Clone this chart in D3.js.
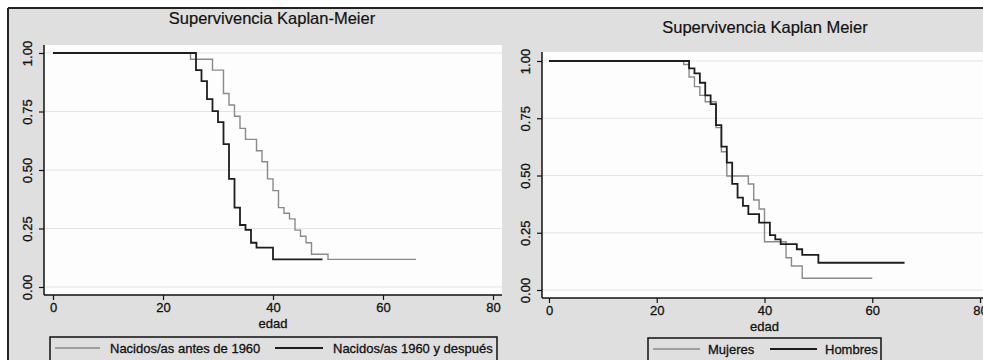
<!DOCTYPE html>
<html>
<head>
<meta charset="utf-8">
<script src="https://cdn.jsdelivr.net/npm/d3@7"></script>
<style>
  body { margin: 0; background: #fff; }
  svg { display: block; font-family: "Liberation Sans", Arial, sans-serif; }
  svg text { stroke: #111; stroke-width: 0.3px; }
</style>
</head>
<body>
<div id="chart"></div>
<script>
// shared axes
const xTicks = [0, 20, 40, 60, 80];
const yTicks = [0, 0.25, 0.5, 0.75, 1];

// left panel: birth cohort
const antesTime = [0, 25, 29, 31, 32, 33, 34, 35, 37, 38, 39, 40, 41, 42, 43, 44, 45, 46, 47, 50, 66];
const antesSurv = [1, 0.973, 0.927, 0.827, 0.778, 0.73, 0.678, 0.631, 0.582, 0.535, 0.462, 0.412, 0.339, 0.315, 0.291, 0.243, 0.217, 0.189, 0.14, 0.118, 0.118];
const despuesTime = [0, 26, 27, 28, 29, 30, 31, 32, 33, 34, 35, 36, 37, 40, 49];
const despuesSurv = [1, 0.927, 0.88, 0.803, 0.752, 0.705, 0.611, 0.462, 0.339, 0.265, 0.244, 0.189, 0.168, 0.118, 0.118];

// right panel: sex
const mujeresTime = [0, 25, 26, 27, 28, 29, 31, 32, 33, 37, 38, 39, 40, 44, 45, 47, 60];
const mujeresSurv = [1, 0.985, 0.93, 0.888, 0.85, 0.822, 0.709, 0.604, 0.498, 0.463, 0.393, 0.354, 0.211, 0.141, 0.105, 0.051, 0.051];
const hombresTime = [0, 26, 27, 28, 29, 30, 31, 32, 33, 34, 35, 36, 37, 39, 41, 42, 43, 46, 47, 50, 66];
const hombresSurv = [1, 0.968, 0.946, 0.905, 0.85, 0.812, 0.72, 0.626, 0.556, 0.463, 0.403, 0.367, 0.331, 0.294, 0.24, 0.221, 0.2, 0.178, 0.153, 0.119, 0.119];

const GREY = "#8a8a8a";
const BLACK = "#1e1e1e";
const PANEL_BG = "#dfdfdf";

const svg = d3.select("#chart").append("svg")
  .attr("width", 983)
  .attr("height", 360);

class KMPanel {
  constructor(_config) {
    this.config = _config;
    this.initVis();
  }

  initVis() {
    let vis = this;
    const c = vis.config;

    vis.g = svg.append("g");

    // panel background
    vis.g.append("rect")
      .attr("x", c.panel.x).attr("y", c.panel.y)
      .attr("width", c.panel.w).attr("height", c.panel.h)
      .attr("fill", PANEL_BG);

    // plot region
    vis.g.append("rect")
      .attr("x", c.plot.left).attr("y", c.plot.top)
      .attr("width", c.plot.right - c.plot.left)
      .attr("height", c.plot.bottom - c.plot.top)
      .attr("fill", "#fdfdfd");

    vis.x = d3.scaleLinear().domain([0, 80]).range(c.xRange);
    vis.y = d3.scaleLinear().domain([0, 1]).range(c.yRange);

    // gridlines
    vis.g.selectAll("line.grid")
      .data(yTicks)
      .join("line")
      .attr("class", "grid")
      .attr("x1", c.plot.left + 1).attr("x2", c.plot.right)
      .attr("y1", d => vis.y(d)).attr("y2", d => vis.y(d))
      .attr("stroke", "#e4e4e4")
      .attr("stroke-width", 1.2);

    // axes
    const yAxis = d3.axisLeft(vis.y)
      .tickValues(yTicks)
      .tickFormat(d3.format(".2f"))
      .tickSize(5)
      .tickPadding(4);

    const yG = vis.g.append("g")
      .attr("transform", `translate(${c.plot.left},0)`)
      .call(yAxis);
    yG.select(".domain").remove();
    yG.append("line")
      .attr("y1", c.plot.top).attr("y2", c.plot.bottom)
      .attr("stroke", "#111").attr("stroke-width", 1.5);
    yG.selectAll(".tick line").attr("stroke", "#111").attr("stroke-width", 1.2);
    yG.selectAll(".tick text")
      .attr("x", 0).attr("y", 0).attr("dy", "0.35em")
      .attr("text-anchor", "middle")
      .attr("transform", "rotate(-90) translate(0,-17)")
      .attr("fill", "#111")
      .style("font-size", "13px");

    const xAxis = d3.axisBottom(vis.x)
      .tickValues(xTicks)
      .tickSize(5)
      .tickPadding(3);

    const xG = vis.g.append("g")
      .attr("transform", `translate(0,${c.plot.bottom})`)
      .call(xAxis);
    xG.select(".domain").remove();
    xG.append("line")
      .attr("x1", c.plot.left).attr("x2", c.plot.right)
      .attr("stroke", "#111").attr("stroke-width", 1.5);
    xG.selectAll(".tick line").attr("stroke", "#111").attr("stroke-width", 1.2);
    xG.selectAll(".tick text")
      .attr("fill", "#111")
      .style("font-size", "13px");

    vis.g.append("text")
      .attr("x", vis.x(40)).attr("y", c.plot.bottom + 33)
      .attr("text-anchor", "middle")
      .attr("fill", "#111")
      .style("font-size", "13px")
      .text("edad");

    // title
    vis.g.append("text")
      .attr("x", c.titleX).attr("y", c.titleY)
      .attr("text-anchor", "middle")
      .attr("fill", "#111")
      .style("font-size", "16.5px")
      .style("stroke-width", "0.2px")
      .text(c.title);

    vis.line = d3.line()
      .x(d => vis.x(d[0]))
      .y(d => vis.y(d[1]))
      .curve(d3.curveStepAfter);

    c.series.forEach(s => {
      vis.g.append("path")
        .datum(d3.zip(s.time, s.surv))
        .attr("fill", "none")
        .attr("stroke", s.color)
        .attr("stroke-width", s.width)
        .attr("d", vis.line);
    });

    // legend
    const L = c.legend;
    const lg = vis.g.append("g");
    lg.append("rect")
      .attr("x", L.x).attr("y", L.y)
      .attr("width", L.w).attr("height", 40)
      .attr("fill", PANEL_BG)
      .attr("stroke", "#111").attr("stroke-width", 1.5);
    c.series.forEach((s, i) => {
      const it = L.items[i];
      lg.append("line")
        .attr("x1", it.x1).attr("x2", it.x2)
        .attr("y1", L.y + 11).attr("y2", L.y + 11)
        .attr("stroke", s.color).attr("stroke-width", s.width);
      lg.append("text")
        .attr("x", it.tx).attr("y", L.y + 16)
        .attr("fill", "#111")
        .style("font-size", "13px")
        .text(s.name);
    });
  }
}

// right panel drawn second so it overlaps the left one
new KMPanel({
  panel: { x: 8, y: 8, w: 494, h: 360 },
  plot: { left: 44, top: 45, right: 502, bottom: 295 },
  xRange: [53, 493],
  yRange: [287, 53],
  title: "Supervivencia Kaplan-Meier",
  titleX: 272, titleY: 24,
  series: [
    { name: "Nacidos/as antes de 1960", time: antesTime, surv: antesSurv, color: GREY, width: 1.4 },
    { name: "Nacidos/as 1960 y después", time: despuesTime, surv: despuesSurv, color: BLACK, width: 1.8 }
  ],
  legend: {
    x: 50, y: 337, w: 447,
    items: [{ x1: 55, x2: 100, tx: 110 }, { x1: 275, x2: 323, tx: 333 }]
  }
});

new KMPanel({
  panel: { x: 502, y: 8, w: 481, h: 360 },
  plot: { left: 542, top: 52, right: 983, bottom: 298 },
  xRange: [549, 980],
  yRange: [290, 61],
  title: "Supervivencia Kaplan Meier",
  titleX: 765, titleY: 33,
  series: [
    { name: "Mujeres", time: mujeresTime, surv: mujeresSurv, color: GREY, width: 1.4 },
    { name: "Hombres", time: hombresTime, surv: hombresSurv, color: BLACK, width: 1.8 }
  ],
  legend: {
    x: 648, y: 338, w: 233,
    items: [{ x1: 653, x2: 700, tx: 708 }, { x1: 770, x2: 817, tx: 825 }]
  }
});

// outer frame lines
svg.append("line")
  .attr("x1", 8).attr("x2", 983).attr("y1", 8).attr("y2", 8)
  .attr("stroke", "#222").attr("stroke-width", 2);
svg.append("line")
  .attr("x1", 8).attr("x2", 8).attr("y1", 8).attr("y2", 360)
  .attr("stroke", "#222").attr("stroke-width", 2);
</script>
</body>
</html>
